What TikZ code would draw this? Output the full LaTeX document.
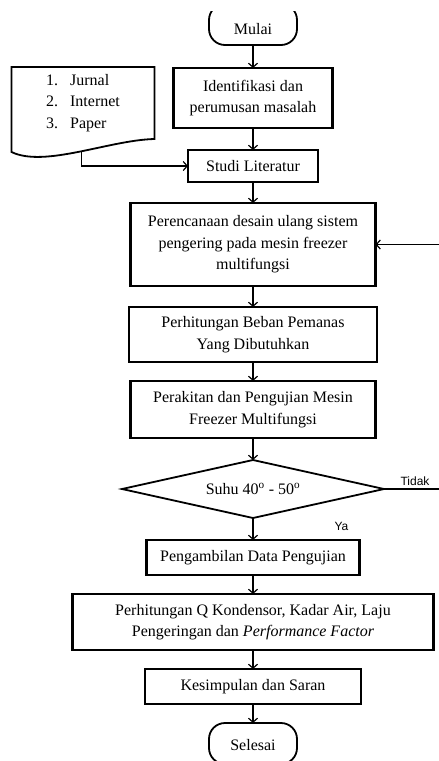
\documentclass[tikz,border=0pt]{standalone}
\usepackage{fontspec}
\setmainfont{Liberation Serif}
\newfontfamily\lblfont{Liberation Sans}
\usetikzlibrary{arrows.meta,positioning,shapes.geometric,calc}
\tikzset{
  act/.style={rectangle, draw, line width=2.6pt, align=center, font=\fontsize{16}{21.5}\selectfont, inner sep=2pt, outer sep=0pt},
  actthin/.style={act, line width=1.7pt},
  term/.style={rectangle, rounded corners=16pt, draw, line width=1.8pt, minimum width=88pt, font=\fontsize{16}{21.5}\selectfont, inner sep=0pt, outer sep=0pt},
  decision/.style={diamond, draw, line width=1.8pt, align=center, aspect=4.5, font=\fontsize{16}{21.5}\selectfont, minimum width=262pt, minimum height=58pt, inner sep=0pt, outer sep=0pt},
  doc/.style={rectangle, align=left, font=\fontsize{16}{21.5}\selectfont, minimum width=143pt, minimum height=72pt, inner sep=0pt, outer sep=0pt},
  docline/.style={draw, line width=1.8pt},
  arr/.style={-{Straight Barb[length=4pt,width=9pt]}, line width=1.2pt},
  lbl/.style={font=\lblfont\fontsize{12}{14}\selectfont, inner sep=1pt}
}

\begin{document}
\begin{tikzpicture}[x=1pt, y=1pt]
\useasboundingbox (0,0) rectangle (439,-761);
\clip (0,-11) rectangle (439,-761);

\node[term, text height=30.5pt, text depth=10.5pt] (mulai) at (253,-24.5) {Mulai};
\node[act, below=23pt of mulai, minimum width=159pt, minimum height=60pt] (ident) {Identifikasi dan\\perumusan masalah};
\node[act, below=22pt of ident, minimum width=130pt, minimum height=32pt] (studi) {Studi Literatur};
\node[act, below=21pt of studi, minimum width=245pt, minimum height=83pt] (plan) {Perencanaan desain ulang sistem\\pengering pada mesin freezer\\multifungsi};
\node[actthin, below=21pt of plan, minimum width=248pt, minimum height=55pt] (beban) {Perhitungan Beban Pemanas\\Yang Dibutuhkan};
\node[act, below=19pt of beban, minimum width=245pt, minimum height=57pt] (rakit) {Perakitan dan Pengujian Mesin\\Freezer Multifungsi};
\node[decision, below=22pt of rakit] (cond) {Suhu 40\textsuperscript{o} - 50\textsuperscript{o}};
\node[act, below=22pt of cond, minimum width=213pt, minimum height=35pt] (ambil) {Pengambilan Data Pengujian};
\node[act, below=19pt of ambil, minimum width=361pt, minimum height=56pt, line width=2.2pt] (hitung) {Perhitungan Q Kondensor, Kadar Air, Laju\\Pengeringan dan \textit{Performance Factor}};
\node[act, below=19pt of hitung, minimum width=216pt, minimum height=35pt] (simpul) {Kesimpulan dan Saran};
\node[term, below=19pt of simpul, text height=27.5pt, text depth=13.5pt] (selesai) {Selesai};

% sumber literatur
\node[doc, anchor=north east] (doc) at ([xshift=-19pt, yshift=1pt]ident.north west) {\makebox[24pt][l]{1.}Jurnal\\\makebox[24pt][l]{2.}Internet\\\makebox[24pt][l]{3.}Paper};
\draw[docline] (doc.south east) .. controls +(-45pt,-1pt) and +(33pt,-16pt) .. coordinate[pos=0.48] (docfoot) ($(doc.south west)+(0,-13pt)$) -- (doc.north west) -- (doc.north east) -- cycle;

\draw[arr] (mulai) -- (ident);
\draw[arr] (ident) -- (studi);
\draw[arr] (docfoot) |- (studi.west);
\draw[arr] (studi) -- (plan);
\draw[arr] (plan) -- (beban);
\draw[arr] (beban) -- (rakit);
\draw[arr] (rakit) -- (cond);
\draw[arr] (cond) -- node[lbl, right=80pt, pos=0.4] {Ya} (ambil);
\draw[arr] (ambil) -- (hitung);
\draw[arr] (hitung) -- (simpul);
\draw[arr] (simpul) -- (selesai);

% kembali ke perencanaan
\coordinate (loopc) at ([xshift=62pt]cond.east);
\draw[arr] (cond.east) -- node[lbl, above=2pt] {Tidak} (loopc) |- (plan.east);
\end{tikzpicture}
\end{document}
